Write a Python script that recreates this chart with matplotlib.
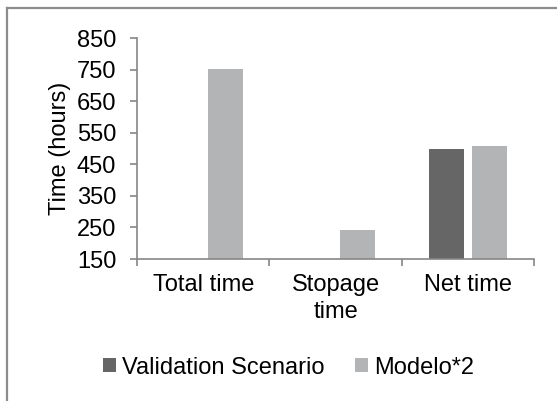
import numpy as np
import matplotlib
matplotlib.use("Agg")
import matplotlib.pyplot as plt
from matplotlib.lines import Line2D

plt.rcParams['font.family'] = ['Liberation Sans', 'DejaVu Sans']

# Chart data
categories = ['Total time', 'Stopage\ntime', 'Net time']
validation = [0, 0, 500]
modelo = [752, 243, 507]
y_ticks = [150, 250, 350, 450, 550, 650, 750, 850]

DARK = '#666666'
LIGHT = '#b3b4b6'
AXIS = '#868686'
FS = 17

fig = plt.figure(figsize=(5.57, 4.01), dpi=100)
ax = fig.add_axes([0.246, 0.354, 0.713, 0.551])

x = np.arange(len(categories))
width = 0.265
offset = 0.165
ax.bar(x - offset, validation, width, color=DARK, label='Validation Scenario')
ax.bar(x + offset, modelo, width, color=LIGHT, label='Modelo*2')

ax.set_ylim(150, 850)
ax.set_yticks(y_ticks)
ax.set_xlim(-0.5, 2.5)
ax.set_xticks(x)
ax.set_xticklabels(categories, fontsize=FS, linespacing=1.3)
ax.set_xticks(np.arange(-0.5, 3.0, 1.0), minor=True)
ax.tick_params(axis='x', which='major', length=0, pad=11)
ax.tick_params(axis='x', which='minor', length=5, width=1.2, color=AXIS, direction='out')
ax.tick_params(axis='y', labelsize=FS, length=5, width=1.2, color=AXIS, direction='out', pad=10)
ax.set_ylabel('Time (hours)', fontsize=FS, labelpad=4)

for side in ['top', 'right']:
    ax.spines[side].set_visible(False)
for side in ['left', 'bottom']:
    ax.spines[side].set_color(AXIS)
    ax.spines[side].set_linewidth(1.2)

fig.legend(loc='center', bbox_to_anchor=(0.518, 0.083), ncol=2, frameon=False,
           fontsize=FS, handlelength=0.55, handleheight=0.55,
           handletextpad=0.25, columnspacing=1.3)

# chart frame (left and top edges)
fig.add_artist(Line2D([0.0125, 0.0125], [0.0, 0.98], transform=fig.transFigure,
                      color='#8c8c8c', linewidth=1.6))
fig.add_artist(Line2D([0.0125, 1.0], [0.98, 0.98], transform=fig.transFigure,
                      color='#8c8c8c', linewidth=1.6))

fig.savefig('out.png', dpi=100)
